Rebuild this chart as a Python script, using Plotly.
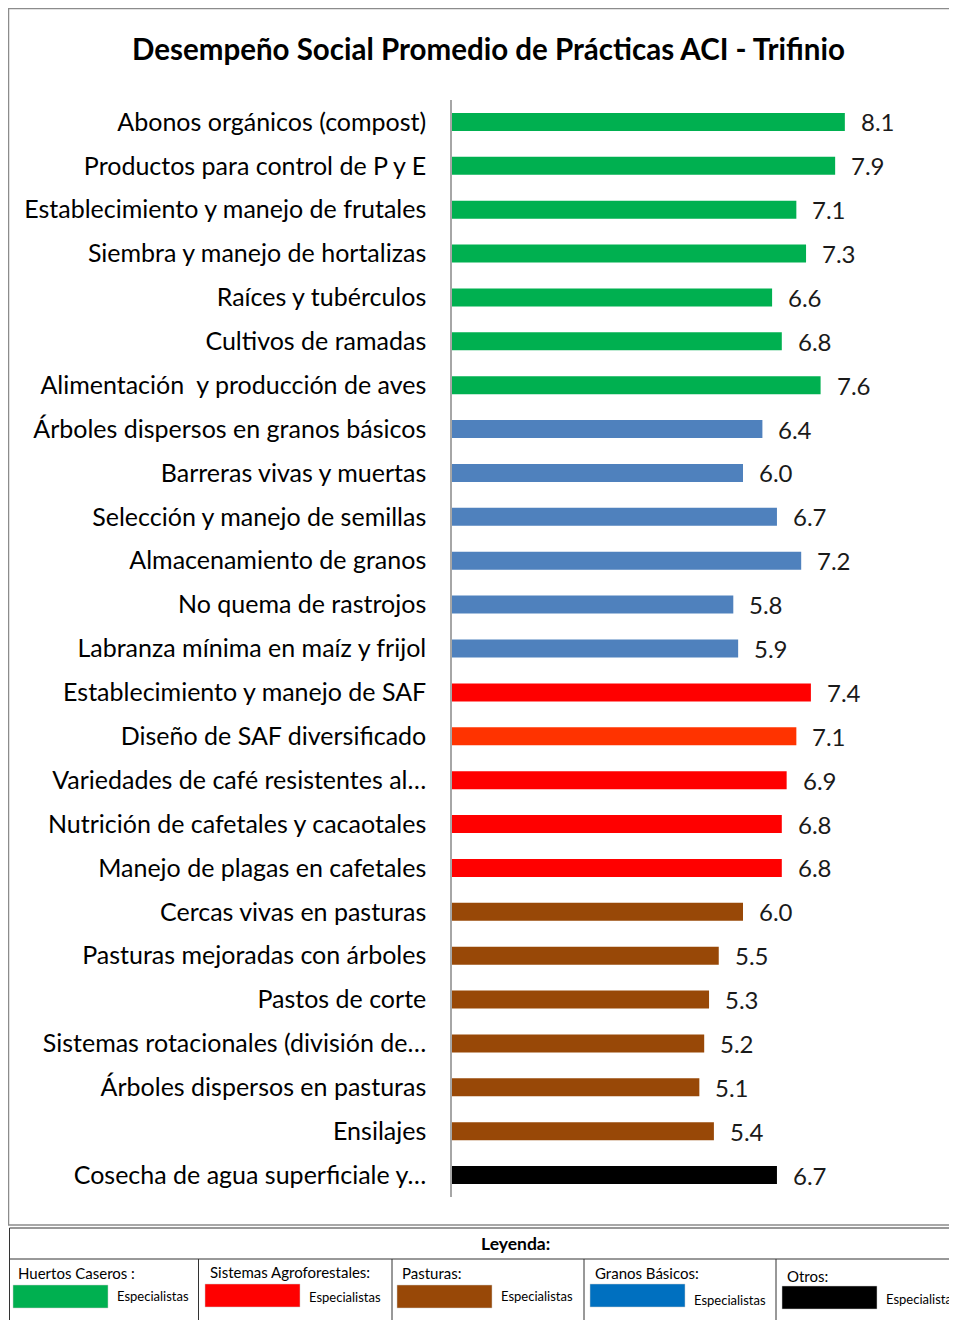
import plotly.graph_objects as go

# The page body adds an 8px margin, so the figure is sized to fit inside it.
OFF = 8
W, H = 957 - OFF, 1320 - OFF

categories = [
    "Abonos orgánicos (compost)",
    "Productos para control de P y E",
    "Establecimiento y manejo de frutales",
    "Siembra y manejo de hortalizas",
    "Raíces y tubérculos",
    "Cultivos de ramadas",
    "Alimentación  y producción de aves",
    "Árboles dispersos en granos básicos",
    "Barreras vivas y muertas",
    "Selección y manejo de semillas",
    "Almacenamiento de granos",
    "No quema de rastrojos",
    "Labranza mínima en maíz y frijol",
    "Establecimiento y manejo de SAF",
    "Diseño de SAF diversificado",
    "Variedades de café resistentes al…",
    "Nutrición de cafetales y cacaotales",
    "Manejo de plagas en cafetales",
    "Cercas vivas en pasturas",
    "Pasturas mejoradas con árboles",
    "Pastos de corte",
    "Sistemas rotacionales (división de…",
    "Árboles dispersos en pasturas",
    "Ensilajes",
    "Cosecha de agua superficiale y…",
]
values = [8.1, 7.9, 7.1, 7.3, 6.6, 6.8, 7.6,
          6.4, 6.0, 6.7, 7.2, 5.8, 5.9,
          7.4, 7.1, 6.9, 6.8, 6.8,
          6.0, 5.5, 5.3, 5.2, 5.1, 5.4,
          6.7]
groups = ["Huertos"] * 7 + ["Granos"] * 6 + ["SAF", "SAF2", "SAF", "SAF", "SAF"] + ["Pasturas"] * 6 + ["Otros"]

bar_colors = {"Huertos": "#00B050", "Granos": "#4F81BD", "SAF": "#FF0000",
              "SAF2": "#FF3300", "Pasturas": "#984807", "Otros": "#000000"}

legend_titles = ["Huertos Caseros :", "Sistemas Agroforestales:", "Pasturas:", "Granos Básicos:", "Otros:"]
legend_colors = ["#00B050", "#FF0000", "#984807", "#0070C0", "#000000"]
legend_label = "Especialistas"

FONT = "Lato"


def px(x):
    return (x - OFF) / W


def py(y):
    return 1 - (y - OFF) / H


fig = go.Figure()
fig.add_trace(go.Bar(
    x=values, y=categories, orientation="h",
    marker=dict(color=[bar_colors[g] for g in groups], line=dict(width=0)),
    width=0.41, hoverinfo="x+y",
))

annotations = []
for c, v in zip(categories, values):
    annotations.append(dict(x=v, y=c, xref="x", yref="y", text=f"{v:.1f}",
                            showarrow=False, xanchor="left", xshift=14,
                            font=dict(family=FONT, size=24, color="#1a1a1a")))

annotations.append(dict(x=px(488), y=py(48), xref="paper", yref="paper",
                        text="<b>Desempeño Social Promedio de Prácticas ACI - Trifinio</b>",
                        showarrow=False, xanchor="center", yanchor="middle",
                        font=dict(family=FONT, size=29.5, color="#000000")))

shapes = []
# chart border
shapes.append(dict(type="rect", xref="paper", yref="paper",
                   x0=px(8.5), x1=px(970), y0=py(1225), y1=py(8.5),
                   line=dict(color="#8c8c8c", width=1.5), fillcolor="rgba(0,0,0,0)"))
# legend table
line_c = "#333333"
shapes.append(dict(type="line", xref="paper", yref="paper", x0=px(9.5), x1=px(9.5), y0=py(1228), y1=py(1330),
                   line=dict(color=line_c, width=1)))
shapes.append(dict(type="line", xref="paper", yref="paper", x0=px(9.5), x1=px(970), y0=py(1228), y1=py(1228),
                   line=dict(color=line_c, width=1)))
shapes.append(dict(type="line", xref="paper", yref="paper", x0=px(9.5), x1=px(970), y0=py(1259), y1=py(1259),
                   line=dict(color=line_c, width=1)))
for xv in [198.5, 392, 584, 776]:
    shapes.append(dict(type="line", xref="paper", yref="paper", x0=px(xv), x1=px(xv), y0=py(1259), y1=py(1330),
                       line=dict(color=line_c, width=1)))

annotations.append(dict(x=px(515), y=py(1243), xref="paper", yref="paper", text="<b>Leyenda:</b>",
                        showarrow=False, xanchor="center", yanchor="middle",
                        font=dict(family=FONT, size=17.5, color="#000000")))

cell_x = [13, 205, 397, 590, 782]
title_y = [1273, 1272, 1273, 1273, 1276]
rect_y = [1285, 1284, 1285, 1284, 1286]
esp_y = [1296, 1297, 1296, 1300, 1299]
for i, (t, col) in enumerate(zip(legend_titles, legend_colors)):
    x0 = cell_x[i]
    annotations.append(dict(x=px(x0 + 3), y=py(title_y[i]), xref="paper", yref="paper", text=t,
                            showarrow=False, xanchor="left", yanchor="middle",
                            font=dict(family=FONT, size=15, color="#000000")))
    shapes.append(dict(type="rect", xref="paper", yref="paper",
                       x0=px(x0), x1=px(x0 + 95), y0=py(rect_y[i] + 23), y1=py(rect_y[i]),
                       line=dict(color="#cccccc", width=0.5), fillcolor=col))
    annotations.append(dict(x=px(x0 + 102), y=py(esp_y[i]), xref="paper", yref="paper", text=legend_label,
                            showarrow=False, xanchor="left", yanchor="middle",
                            font=dict(family=FONT, size=13, color="#000000")))

fig.update_layout(
    width=W, height=H,
    margin=dict(l=0, r=0, t=0, b=0),
    paper_bgcolor="white", plot_bgcolor="white",
    showlegend=False,
    bargap=0.59,
    xaxis=dict(domain=[px(452), px(937)], range=[0, 10], visible=False, fixedrange=True),
    yaxis=dict(domain=[py(1197), py(100)], autorange="reversed", type="category",
               showline=True, linecolor="#a6a6a6", linewidth=1.5,
               ticks="", ticklabelstandoff=19,
               tickfont=dict(family=FONT, size=25, color="#000000"),
               showgrid=False, zeroline=False),
    shapes=shapes,
    annotations=annotations,
)

fig.write_html("out.html")
